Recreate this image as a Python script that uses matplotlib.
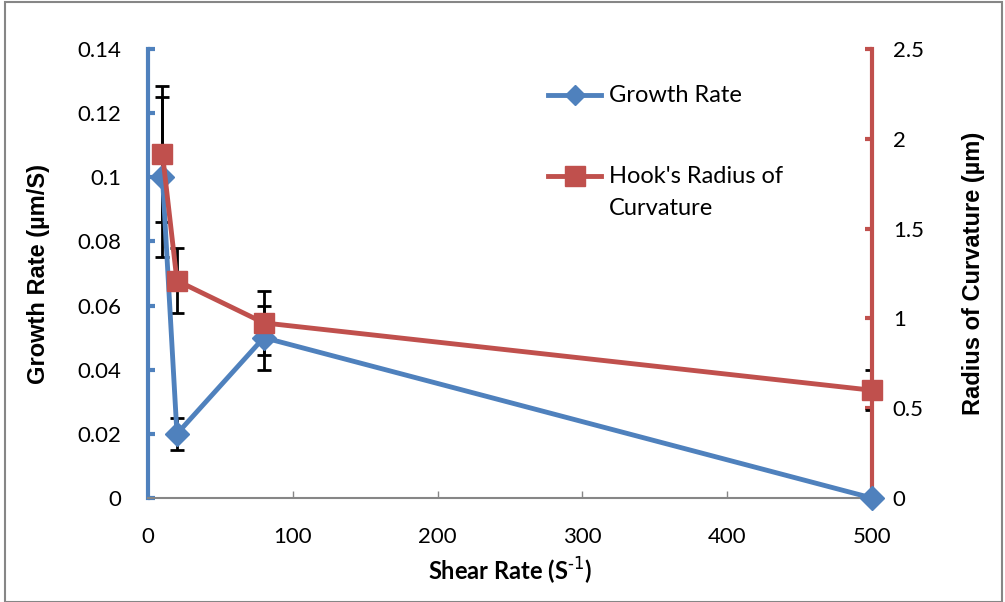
import matplotlib
matplotlib.use("Agg")
import matplotlib.pyplot as plt
from matplotlib.lines import Line2D

plt.rcParams['font.family'] = ['Lato', 'DejaVu Sans']

shear = [10, 20, 80, 500]
growth = [0.1, 0.02, 0.05, 0.0]
growth_err = [0.025, 0.005, 0.01, 0.0]
radius = [1.915, 1.21, 0.975, 0.6]
radius_err = [0.38, 0.18, 0.18, 0.11]

blue = '#4F81BD'
red = '#C0504D'
gray = '#868686'

fig = plt.figure(figsize=(10.05, 6.02), dpi=100)
ax = fig.add_axes([148/1005, 1-498/602, 724/1005, 449/602])
ax2 = ax.twinx()

ax.set_xlim(0, 500)
ax.set_ylim(0, 0.14)
ax2.set_ylim(0, 2.5)

ax.errorbar(shear, growth, yerr=growth_err, fmt='none', ecolor='black',
            elinewidth=2, capsize=5, capthick=2, zorder=2)
ax2.plot(shear, growth, color=blue, lw=3.5, marker='D', markersize=12,
         zorder=3, clip_on=False, transform=ax.transData)
ax2.errorbar(shear, radius, yerr=radius_err, fmt='none', ecolor='black',
             elinewidth=2, capsize=5, capthick=2, zorder=2)
ax2.plot(shear, radius, color=red, lw=3.5, marker='s', markersize=14,
         zorder=4, clip_on=False)

ax.set_xlim(0, 500)
ax.set_ylim(0, 0.14)
ax2.set_ylim(0, 2.5)
ax.set_xticks([0, 100, 200, 300, 400, 500])
ax.set_yticks([0, 0.02, 0.04, 0.06, 0.08, 0.1, 0.12, 0.14])
ax.set_yticklabels(['0', '0.02', '0.04', '0.06', '0.08', '0.1', '0.12', '0.14'])
ax2.set_yticks([0, 0.5, 1, 1.5, 2, 2.5])
ax2.set_yticklabels(['0', '0.5', '1', '1.5', '2', '2.5'])

for a in (ax, ax2):
    a.spines['top'].set_visible(False)
ax.spines['right'].set_visible(False)
ax2.spines['left'].set_visible(False)
ax2.spines['bottom'].set_visible(False)
ax.spines['left'].set_color(blue)
ax.spines['left'].set_linewidth(3)
ax2.spines['right'].set_color(red)
ax2.spines['right'].set_linewidth(3)
ax.spines['bottom'].set_color(gray)
ax.spines['bottom'].set_linewidth(1.5)

ax.tick_params(axis='y', direction='in', length=5, width=3, color=blue,
               labelsize=16, pad=19.5)
ax.tick_params(axis='x', direction='in', length=5, width=1, color=gray,
               labelsize=16, pad=21)
ax2.tick_params(axis='y', direction='in', length=5, width=3, color=red,
                labelsize=16, pad=15)

ax.set_xlabel('Shear Rate (S$^{\\text{-1}}$)', fontsize=17, fontweight='bold',
              labelpad=6)
ax.set_ylabel('Growth Rate (µm/S)', fontsize=17, fontweight='bold',
              family='Liberation Sans')
ax2.set_ylabel('Radius of Curvature (µm)', fontsize=17, fontweight='bold',
               family='Liberation Sans')
ax.yaxis.set_label_coords(-0.136, 0.5)
ax2.yaxis.set_label_coords(1.124, 0.5)

# legend drawn manually (handle aligned with first text line)
leg_items = [("Growth Rate", blue, 'D', 10, 95),
             ("Hook's Radius of\nCurvature", red, 's', 14, 176)]
for label, col, mk, ms, ypix in leg_items:
    yf = 1 - ypix/602
    fig.add_artist(Line2D([548/1005, 601/1005], [yf, yf], color=col, lw=3.5,
                          transform=fig.transFigure))
    fig.add_artist(Line2D([574.5/1005], [yf], color=col, marker=mk,
                          markersize=ms, lw=0, transform=fig.transFigure))
    fig.text(609/1005, 1 - (ypix - 10)/602, label, fontsize=17, va='top',
             ha='left', linespacing=1.65, transform=fig.transFigure)

fig.patches.append(plt.Rectangle((5/1005, 0), 997/1005, 1-2/602,
                                 transform=fig.transFigure, fill=False,
                                 edgecolor=gray, lw=1.5))

fig.savefig('out.png', dpi=100)
